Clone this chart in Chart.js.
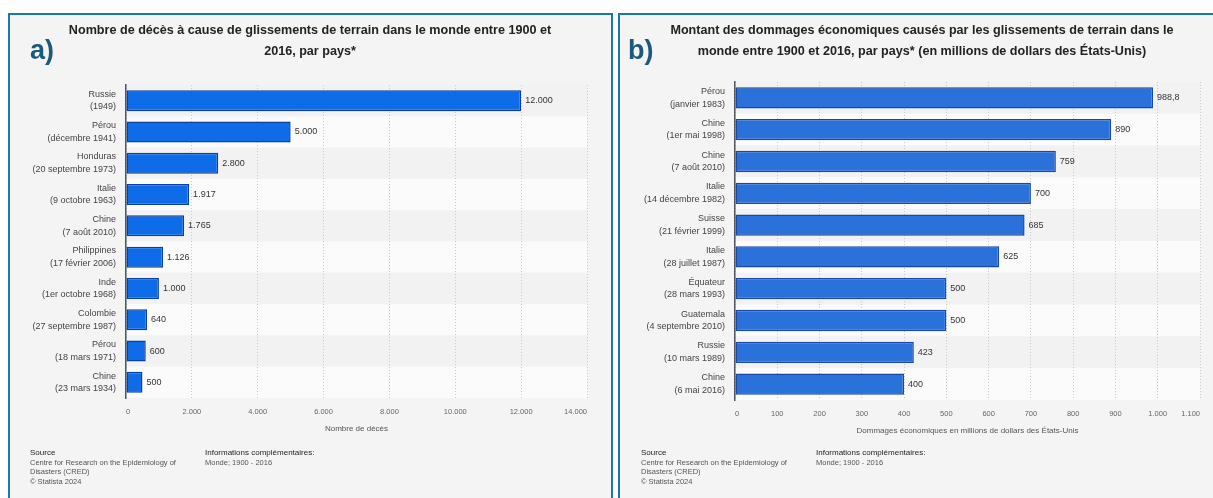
<!DOCTYPE html>
<html>
<head>
<meta charset="utf-8">
<script src="https://cdn.jsdelivr.net/npm/chart.js@4.4.1/dist/chart.umd.min.js"></script>
<style>
  html, body { margin: 0; padding: 0; background: #ffffff; width: 1213px; height: 498px; overflow: hidden; font-family: "Liberation Sans", Arial, sans-serif; }
  .panel { position: absolute; top: 13px; height: 500px; background: #f4f4f4; border: 2px solid #1b7aa3; border-bottom: none; box-sizing: border-box; }
  #pA { left: 8px; width: 605px; }
  #pB { left: 618px; width: 610px; border-right: none; }
  canvas { position: absolute; }
  #cA { left: 10px; top: 15px; }
  #cB { left: 620px; top: 15px; }
  .tag { position: absolute; font-weight: bold; font-size: 27px; color: #1a5a7c; line-height: 1; }
  .src { position: absolute; font-size: 7.5px; line-height: 9.7px; color: #555; }
  .src b { font-weight: normal; color: #222; font-size: 8px; }
</style>
</head>
<body>
<div class="panel" id="pA"></div>
<div class="panel" id="pB"></div>
<canvas id="cA" width="601" height="483"></canvas>
<canvas id="cB" width="593" height="483"></canvas>
<div class="tag" style="left:30px; top:37px;">a)</div>
<div class="tag" style="left:628px; top:37px;">b)</div>
<div class="src" style="left:30px; top:448px;"><b>Source</b><br>Centre for Research on the Epidemiology of<br>Disasters (CRED)<br>© Statista 2024</div>
<div class="src" style="left:205px; top:448px;"><b>Informations complémentaires:</b><br>Monde; 1900 - 2016</div>
<div class="src" style="left:641px; top:448px;"><b>Source</b><br>Centre for Research on the Epidemiology of<br>Disasters (CRED)<br>© Statista 2024</div>
<div class="src" style="left:816px; top:448px;"><b>Informations complémentaires:</b><br>Monde; 1900 - 2016</div>
<script>
// ---- Data ----
const titleA = ["Nombre de décès à cause de glissements de terrain dans le monde entre 1900 et", "2016, par pays*"];
const categoriesA = [["Russie","(1949)"],["Pérou","(décembre 1941)"],["Honduras","(20 septembre 1973)"],["Italie","(9 octobre 1963)"],["Chine","(7 août 2010)"],["Philippines","(17 février 2006)"],["Inde","(1er octobre 1968)"],["Colombie","(27 septembre 1987)"],["Pérou","(18 mars 1971)"],["Chine","(23 mars 1934)"]];
const valuesA = [12000, 5000, 2800, 1917, 1765, 1126, 1000, 640, 600, 500];
const ticksA = [0, 2000, 4000, 6000, 8000, 10000, 12000, 14000];
const axisTitleA = "Nombre de décès";

const titleB = ["Montant des dommages économiques causés par les glissements de terrain dans le", "monde entre 1900 et 2016, par pays* (en millions de dollars des États-Unis)"];
const categoriesB = [["Pérou","(janvier 1983)"],["Chine","(1er mai 1998)"],["Chine","(7 août 2010)"],["Italie","(14 décembre 1982)"],["Suisse","(21 février 1999)"],["Italie","(28 juillet 1987)"],["Équateur","(28 mars 1993)"],["Guatemala","(4 septembre 2010)"],["Russie","(10 mars 1989)"],["Chine","(6 mai 2016)"]];
const valuesB = [988.8, 890, 759, 700, 685, 625, 500, 500, 423, 400];
const ticksB = [0, 100, 200, 300, 400, 500, 600, 700, 800, 900, 1000, 1100];
const axisTitleB = "Dommages économiques en millions de dollars des États-Unis";

// ---- Helpers ----
const FONT = '"Liberation Sans", Arial, sans-serif';
function fmt(v) {
  const parts = String(v).split('.');
  parts[0] = parts[0].replace(/\B(?=(\d{3})+(?!\d))/g, '.');
  return parts.length > 1 ? parts[0] + ',' + parts[1] : parts[0];
}

const bandsPlugin = {
  id: 'bands',
  beforeDraw(chart) {
    const {ctx, chartArea: a, scales: {y}} = chart;
    const n = chart.data.labels.length;
    const h = (a.bottom - a.top) / n;
    ctx.save();
    for (let i = 0; i < n; i++) {
      const c = y.getPixelForValue(i);
      ctx.fillStyle = (i % 2 === 0) ? '#f2f2f2' : '#fbfbfb';
      ctx.fillRect(a.left, c - h / 2, a.right - a.left, h);
    }
    ctx.restore();
  }
};

const valueLabels = {
  id: 'valueLabels',
  afterDatasetsDraw(chart) {
    const {ctx} = chart;
    const meta = chart.getDatasetMeta(0);
    const data = chart.data.datasets[0].data;
    ctx.save();
    ctx.font = '9px ' + FONT;
    ctx.fillStyle = '#333';
    ctx.textAlign = 'left';
    ctx.textBaseline = 'middle';
    meta.data.forEach((bar, i) => {
      ctx.fillText(fmt(data[i]), bar.x + 4, bar.y);
    });
    ctx.restore();
  }
};

const titlePlugin = {
  id: 'twoLineTitle',
  afterDraw(chart, args, opts) {
    const {ctx} = chart;
    ctx.save();
    ctx.font = 'bold 12.6px ' + FONT;
    ctx.fillStyle = '#222';
    ctx.textAlign = 'center';
    ctx.textBaseline = 'middle';
    opts.lines.forEach((t, i) => ctx.fillText(t, opts.x, opts.y + i * opts.lh));
    ctx.restore();
  }
};

function makeChart(id, cats, vals, ticks, max, axisTitle, title, cfg) {
  return new Chart(document.getElementById(id), {
    type: 'bar',
    data: {
      labels: cats,
      datasets: [{
        data: vals,
        backgroundColor: cfg.fill,
        borderColor: cfg.border,
        borderWidth: 1.5,
        borderSkipped: false,
        barPercentage: 0.67,
        categoryPercentage: 1
      }]
    },
    options: {
      indexAxis: 'y',
      responsive: false,
      animation: false,
      devicePixelRatio: 1,
      layout: { padding: { top: cfg.top, right: cfg.right, bottom: cfg.bottom, left: 0 } },
      plugins: {
        legend: { display: false },
        tooltip: { enabled: false },
        title: { display: false },
        twoLineTitle: { lines: title, x: cfg.titleX, y: 16, lh: 21 }
      },
      scales: {
        x: {
          min: 0, max: max,
          afterBuildTicks: (s) => { s.ticks = ticks.map(v => ({ value: v })); },
          afterFit: (s) => { s.height = 40; },
          grid: { color: '#c9c9c9', lineWidth: 1, drawTicks: false },
          border: { display: false, dash: [1, 2] },
          ticks: { align: 'inner', padding: 9, color: '#666', font: { family: FONT, size: 7.5 }, callback: (v) => fmt(v) },
          title: { display: true, text: axisTitle, color: '#555', font: { family: FONT, size: 8 }, padding: { top: 6, bottom: 4 } }
        },
        y: {
          afterFit: (s) => { s.width = cfg.left; },
          grid: { display: false, drawTicks: false },
          border: { display: true, color: '#555', width: 1.5 },
          ticks: { padding: 10, color: '#444', font: { family: FONT, size: 9, lineHeight: 1.4 } }
        }
      }
    },
    plugins: [bandsPlugin, valueLabels, titlePlugin]
  });
}

makeChart('cA', categoriesA, valuesA, ticksA, 14000, axisTitleA, titleA,
  { fill: '#0f6ce8', border: '#0b3f9e', top: 70, right: 24, bottom: 60, left: 116, titleX: 300 });
makeChart('cB', categoriesB, valuesB, ticksB, 1100, axisTitleB, titleB,
  { fill: '#2a72d9', border: '#1848a0', top: 67, right: 13, bottom: 58, left: 115, titleX: 302 });
</script>
</body>
</html>
